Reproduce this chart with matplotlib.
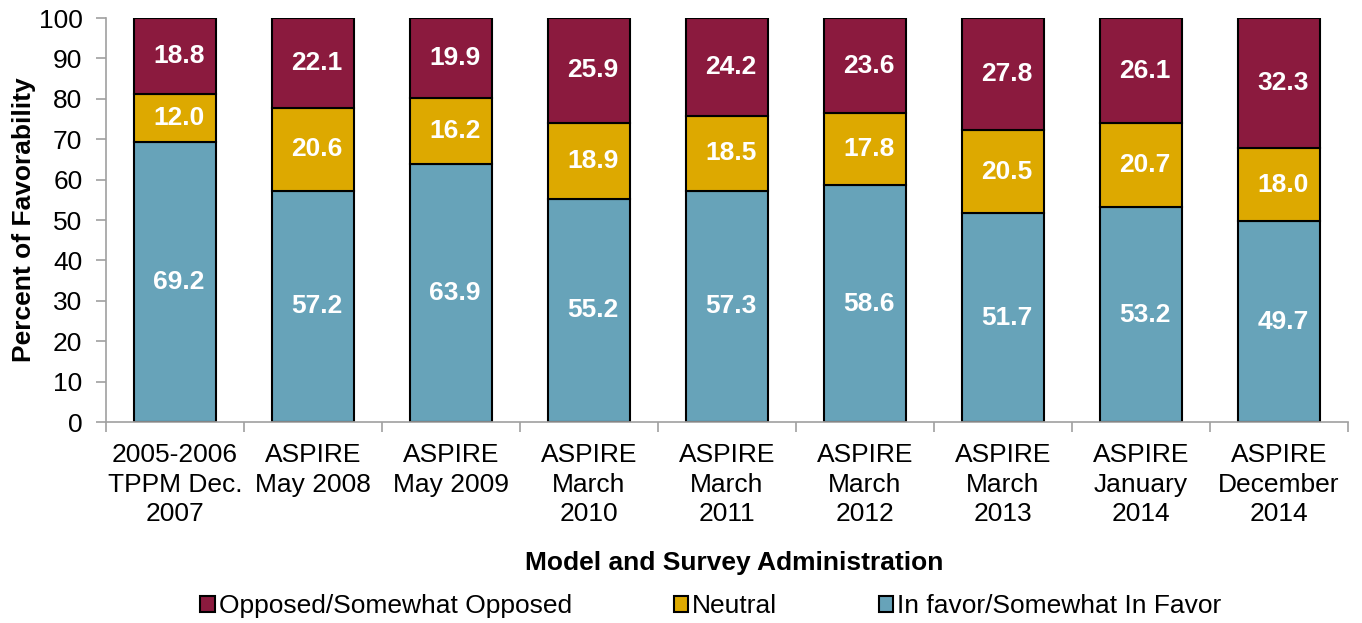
import matplotlib.pyplot as plt
import numpy as np

plt.rcParams['font.family'] = ['Liberation Sans', 'DejaVu Sans']

categories = [
    "2005-2006\nTPPM Dec.\n2007", "ASPIRE\nMay 2008", "ASPIRE\nMay 2009",
    "ASPIRE\nMarch\n2010", "ASPIRE\nMarch\n2011", "ASPIRE\nMarch\n2012",
    "ASPIRE\nMarch\n2013", "ASPIRE\nJanuary\n2014", "ASPIRE\nDecember\n2014",
]
in_favor = [69.2, 57.2, 63.9, 55.2, 57.3, 58.6, 51.7, 53.2, 49.7]
neutral = [12.0, 20.6, 16.2, 18.9, 18.5, 17.8, 20.5, 20.7, 18.0]
opposed = [18.8, 22.1, 19.9, 25.9, 24.2, 23.6, 27.8, 26.1, 32.3]

c_fav = "#67A3B9"
c_neu = "#DDA900"
c_opp = "#8B1A3E"
fs = 19

fig = plt.figure(figsize=(13.62, 6.23), dpi=100)
ax = fig.add_axes([106 / 1362, 1 - 422 / 623, (1348 - 106) / 1362, (422 - 18) / 623])

x = np.arange(len(categories))
w = 0.6
fav = np.array(in_favor)
neu = np.array(neutral)
opp = np.array(opposed)

b1 = ax.bar(x, fav, w, color=c_fav, edgecolor="black", linewidth=1.5, label="In favor/Somewhat In Favor")
b2 = ax.bar(x, neu, w, bottom=fav, color=c_neu, edgecolor="black", linewidth=1.5, label="Neutral")
b3 = ax.bar(x, opp, w, bottom=fav + neu, color=c_opp, edgecolor="black", linewidth=1.5,
            label="Opposed/Somewhat Opposed")

for vals, bottoms in [(fav, np.zeros_like(fav)), (neu, fav), (opp, fav + neu)]:
    for xi, v, b in zip(x, vals, bottoms):
        ax.text(xi + 0.03, b + v / 2, f"{v:.1f}", ha="center", va="center",
                color="white", fontsize=fs, fontweight="bold")

ax.set_xlim(-0.5, len(categories) - 0.5)
ax.set_ylim(0, 100)
ax.set_yticks(range(0, 101, 10))
ax.set_xticks(x)
ax.set_xticklabels(categories, fontsize=fs, linespacing=1.3)
ax.set_xticks(np.arange(-0.5, len(categories)), minor=True)
ax.tick_params(axis="x", which="major", length=0, pad=15)
ax.tick_params(axis="x", which="minor", length=7, color="#A0A0A0", width=1.2)
ax.tick_params(axis="y", labelsize=fs, length=7, color="#A0A0A0", width=1.2, pad=10)

for s in ["top", "right"]:
    ax.spines[s].set_visible(False)
for s in ["left", "bottom"]:
    ax.spines[s].set_color("#A0A0A0")
    ax.spines[s].set_linewidth(1.2)

ax.set_ylabel("Percent of Favorability", fontsize=fs, fontweight="bold")
ax.yaxis.set_label_coords(-70 / 1242, 0.5)
fig.text(734 / 1362, 1 - 563 / 623, "Model and Survey Administration", ha="center", va="center",
         fontsize=fs, fontweight="bold")

handles = [b3, b2, b1]
fig.legend(handles, [h.get_label() for h in handles], loc="center", bbox_to_anchor=(711 / 1362, 1 - 606 / 623),
           ncol=3, frameon=False, fontsize=fs, handlelength=0.55, handleheight=0.55,
           handletextpad=0.15, columnspacing=3.85)

fig.savefig("out.png", dpi=100)
